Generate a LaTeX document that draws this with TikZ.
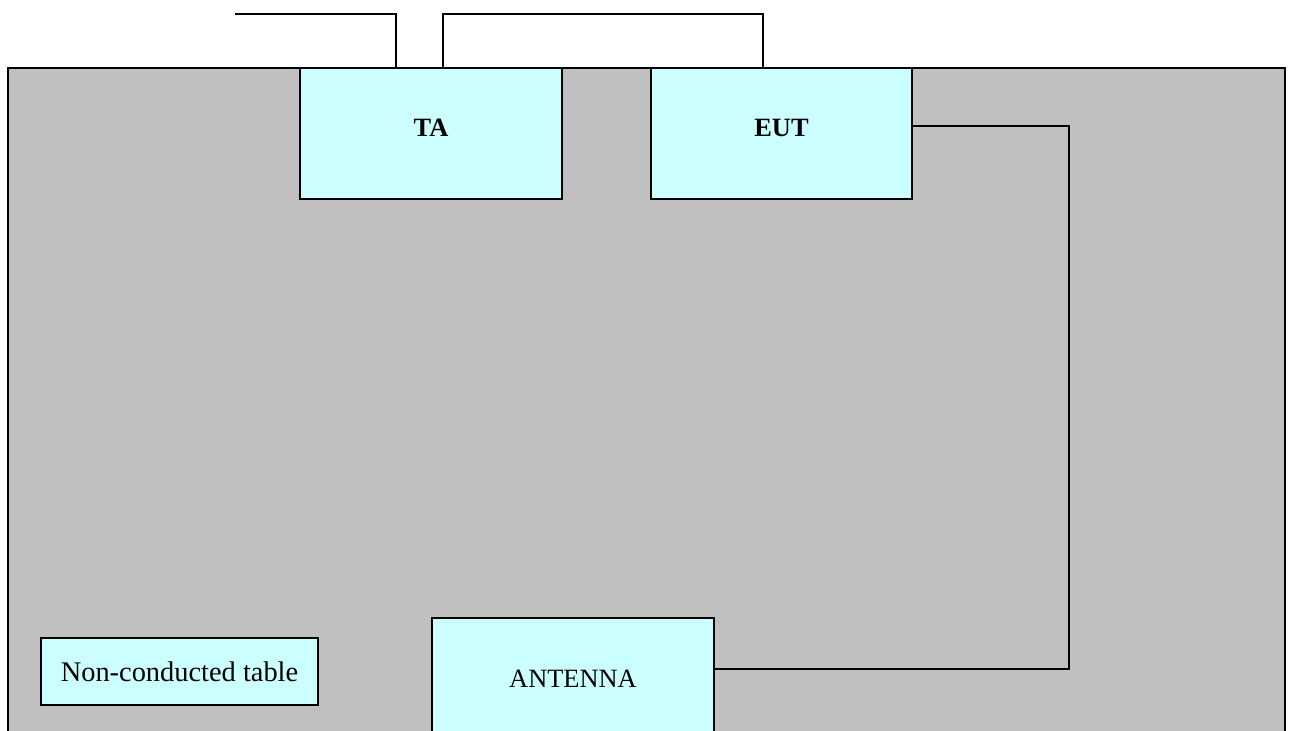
\documentclass[tikz,border=0pt]{standalone}
\usepackage{fontspec}
\setmainfont{Liberation Serif}
\definecolor{tablegray}{RGB}{192,192,192}
\definecolor{boxcyan}{RGB}{204,255,255}
\tikzset{
  unit/.style={draw, fill=boxcyan, line width=1pt, inner sep=0pt, font=\fontsize{13.2}{16}\selectfont},
  wire/.style={line width=0.75pt}
}
\begin{document}
\begin{tikzpicture}[x=0.5pt, y=-0.5pt]
\useasboundingbox (0,0) rectangle (1293,731);
\clip (0,0) rectangle (1293,731);
% Non-conducted table area
\draw[fill=tablegray, line width=0.9pt] (8,68) rectangle (1285,800);
% Equipment
\node[unit, minimum width=131pt, minimum height=65.5pt, text depth=6pt, font=\fontsize{13.2}{16}\selectfont\bfseries] (ta) at (431,133.5) {TA};
\node[unit, minimum width=130.5pt, minimum height=65.5pt, text depth=6pt, font=\fontsize{13.2}{16}\selectfont\bfseries] (eut) at (781.5,133.5) {EUT};
\node[unit, minimum width=141pt, minimum height=64pt, text depth=3pt] (ant) at (573,682) {ANTENNA};
\node[unit, minimum width=138.5pt, minimum height=33.5pt, font=\fontsize{14.2}{17}\selectfont] (tbl) at (179.5,671.5) {Non-conducted table};
% Cabling
\coordinate (lead) at (235,14);
\coordinate (top) at (600,14);
\coordinate (bend) at (1069,126);
\draw[wire] (lead) -| ([xshift=48.5pt]ta.north west);
\draw[wire] ([xshift=72pt]ta.north west) |- (top) -| ([xshift=56.5pt]eut.north west);
\draw[wire] (eut.east |- bend) -- (bend) |- ([yshift=6.5pt]ant.east);
\end{tikzpicture}
\end{document}
